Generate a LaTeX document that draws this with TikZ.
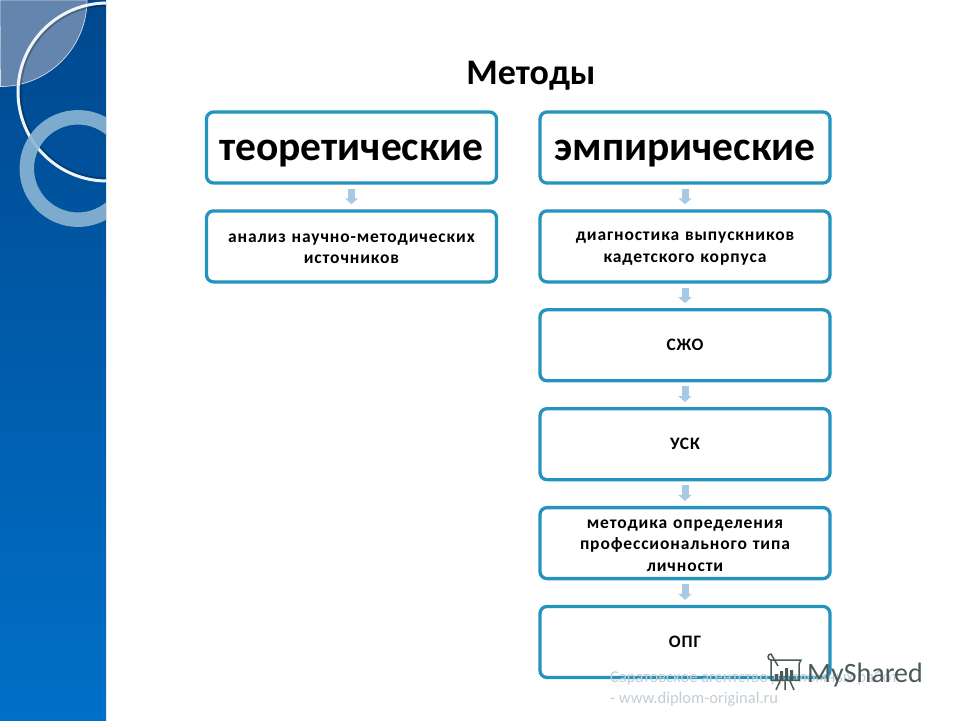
\documentclass[tikz,border=0pt]{standalone}
\usepackage{fontspec}
\setmainfont{Carlito}
\usetikzlibrary{positioning,arrows.meta}
\definecolor{boxline}{HTML}{2494BF}
\definecolor{arrowblue}{HTML}{A9C8E4}
\definecolor{stripetop}{HTML}{00488E}
\definecolor{stripebottom}{HTML}{0070C8}
\definecolor{leafblue}{HTML}{6485AE}
\definecolor{ringblue}{HTML}{8BB5D3}
\definecolor{logogray}{HTML}{4A5A58}
\definecolor{notegray}{HTML}{C3CDD4}
\begin{document}
\begin{tikzpicture}[x=1pt,y=-1pt,node distance=24.6pt,
    methodbox/.style={draw=boxline,line width=3.3pt,rounded corners=7pt,fill=white,
      minimum width=290pt,minimum height=71pt,align=center,text width=280pt,inner sep=0pt},
    headbox/.style={methodbox,text height=26pt,text depth=0pt,font=\fontsize{41.5}{44}\selectfont\bfseries},
    itembox/.style={methodbox,font=\addfontfeature{LetterSpace=5}\fontsize{17.5}{21.5}\selectfont\bfseries},
    longbox/.style={itembox,text height=13pt},
    flowarrow/.style={draw=arrowblue,line width=7pt,shorten <=4pt,shorten >=5pt,
      -{Triangle[width=13pt,length=6pt]}}]
\useasboundingbox (0,0) rectangle (960,720);

\shade[top color=stripetop,bottom color=stripebottom] (0,0) rectangle (106,720);
\begin{scope}
\clip (0,0) rectangle (106,720);
\draw[fill=leafblue,draw=white!70!leafblue,line width=.7pt] (0,0) -- (87,0) arc[start angle=0,end angle=90,radius=86.5] -- cycle;
\draw[black,opacity=.25,line width=2pt] (107,92) circle[radius=86.5];
\draw[white!85!ringblue,line width=3pt] (107,92) circle[radius=89];
\draw[ringblue,opacity=.9,line width=14.5pt] (78,168.5) circle[radius=51.2];
\end{scope}

\node[font=\fontsize{36}{38}\selectfont\bfseries] (title) at (531,76) {Методы};

\node[headbox] (theory) at (351.5,147.5) {теоретические};
\node[longbox,below=of theory] (analysis) {анализ научно-методических\\источников};

\node[headbox] (empiric) at (685,147.5) {эмпирические};
\node[longbox,below=of empiric] (diagnostics) {диагностика выпускников\\кадетского корпуса};
\node[itembox,below=of diagnostics] (szho) {СЖО};
\node[itembox,below=of szho] (usk) {УСК};
\node[longbox,below=of usk] (typemethod) {методика определения\\профессионального типа\\личности};
\node[itembox,below=of typemethod] (opg) {ОПГ};

\draw[flowarrow] (theory) -- (analysis);
\draw[flowarrow] (empiric) -- (diagnostics);
\draw[flowarrow] (diagnostics) -- (szho);
\draw[flowarrow] (szho) -- (usk);
\draw[flowarrow] (usk) -- (typemethod);
\draw[flowarrow] (typemethod) -- (opg);

\node[anchor=north west,inner sep=0pt,text=notegray,align=left,font=\fontsize{16.5}{21}\selectfont] (note) at (610,671) {Саратовское агентство дипломных работ\\- www.diplom-original.ru};

\draw[logogray,line width=1.5pt] (771,660) -- (801,660) -- (799,664) -- (799,680) -- (771,680) -- cycle;
\draw[logogray,line width=1.5pt] (771,660) arc[start angle=90,end angle=270,radius=3] -- (778,666);
\fill[logogray] (775,674) rectangle (778,680) (780,671) rectangle (783,680) (785,668) rectangle (788,680) (790,670) rectangle (793,680);
\draw[logogray,line width=1.5pt] (780,681) -- (776,690) (785,681) -- (785,690) (790,681) -- (794,690);
\node[anchor=west,inner sep=0pt,text=logogray,font=\fontsize{28}{30}\selectfont] (logo) at (807,675) {MyShared};
\end{tikzpicture}
\end{document}
